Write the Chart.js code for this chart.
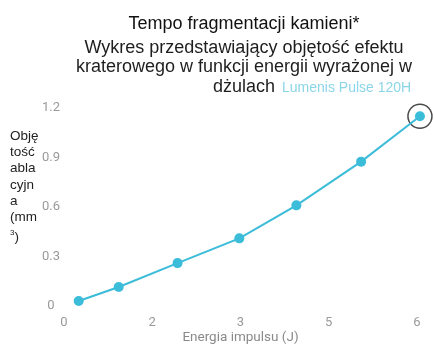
<!DOCTYPE html>
<html>
<head>
<meta charset="utf-8">
<script src="https://cdn.jsdelivr.net/npm/chart.js@4/dist/chart.umd.min.js"></script>
<style>
  html, body { margin: 0; padding: 0; background: #fff; }
  #wrap { position: relative; width: 434px; height: 349px; overflow: hidden; }
  #wykres { position: absolute; left: 0; top: 0; }
  #naglowek {
    position: absolute; left: 54px; top: 14px; width: 380px;
    text-align: center; font-family: "Liberation Sans", Arial, sans-serif;
    color: #1e1e1e; font-size: 18px; line-height: 19.5px;
  }
  #naglowek .tytul { font-size: 18px; margin-bottom: 4px; color: #111; }
  #naglowek .linia4 { position: relative; display: inline-block; }
  #naglowek .marka {
    position: absolute; left: 100%; margin-left: 7px; white-space: nowrap;
    font-size: 14px; color: #8ad5e8; top: 1px;
  }
  #osY {
    position: absolute; left: 10px; top: 128px; width: 40px;
    font-family: "Liberation Sans", Arial, sans-serif; font-size: 13.5px;
    line-height: 16.2px; color: #222;
  }
</style>
</head>
<body>
<div id="wrap">
  <canvas id="wykres" width="434" height="349"></canvas>
  <div id="naglowek">
    <div class="tytul">Tempo fragmentacji kamieni*</div>
    <div>Wykres przedstawiający objętość efektu</div>
    <div>kraterowego w funkcji energii wyrażonej w</div>
    <div><span class="linia4">dżulach<span class="marka">Lumenis Pulse 120H</span></span></div>
  </div>
  <div id="osY">Obję<br>tość<br>abla<br>cyjn<br>a<br>(mm<br><sup style="font-size:8px">3</sup>)</div>
</div>
<script>
// dane
const energia = [0.25, 0.93, 1.93, 2.98, 3.95, 5.05, 6.05];
const objetosc = [0.03, 0.115, 0.26, 0.41, 0.61, 0.875, 1.15];
const etykietyX = ['0', '2', '3', '5', '6'];

const kolor = '#3bbcd9';
const punkty = energia.map((e, i) => ({ x: e, y: objetosc[i] }));
const ostatni = punkty[punkty.length - 1];

new Chart(document.getElementById('wykres').getContext('2d'), {
  type: 'scatter',
  data: {
    datasets: [{
      data: punkty,
      showLine: true,
      clip: false,
      borderColor: kolor,
      backgroundColor: kolor,
      borderWidth: 2,
      pointRadius: 5,
      pointBorderWidth: 0
    }, {
      // obwódka wokół ostatniego punktu
      data: [ostatni],
      clip: false,
      pointRadius: 12,
      backgroundColor: 'rgba(0,0,0,0)',
      borderColor: '#4a4a4a',
      pointBorderWidth: 1.5
    }]
  },
  options: {
    responsive: false,
    animation: false,
    layout: { padding: { left: 0, right: 17, top: 108, bottom: 0 } },
    plugins: { legend: { display: false }, tooltip: { enabled: false } },
    scales: {
      x: {
        type: 'linear', min: 0, max: 6,
        grid: { display: false, drawTicks: false },
        border: { display: false },
        ticks: {
          stepSize: 1.5, padding: 9, color: '#9a9a9a',
          font: { family: 'Roboto', size: 13 },
          callback: (v, i) => etykietyX[i]
        },
        title: {
          display: true, text: 'Energia impulsu (J)', color: '#8a8a8a',
          font: { family: 'Roboto', size: 13.5 }, padding: { top: 0, bottom: 3 }
        },
        afterFit: s => { s.height = 43; }
      },
      y: {
        min: 0, max: 1.2,
        grid: { display: false, drawTicks: false },
        border: { display: false },
        ticks: {
          stepSize: 0.3, padding: 4, crossAlign: 'center', color: '#9a9a9a',
          font: { family: 'Roboto', size: 13 }
        },
        afterFit: s => { s.width = 64; }
      }
    }
  }
});
</script>
</body>
</html>
